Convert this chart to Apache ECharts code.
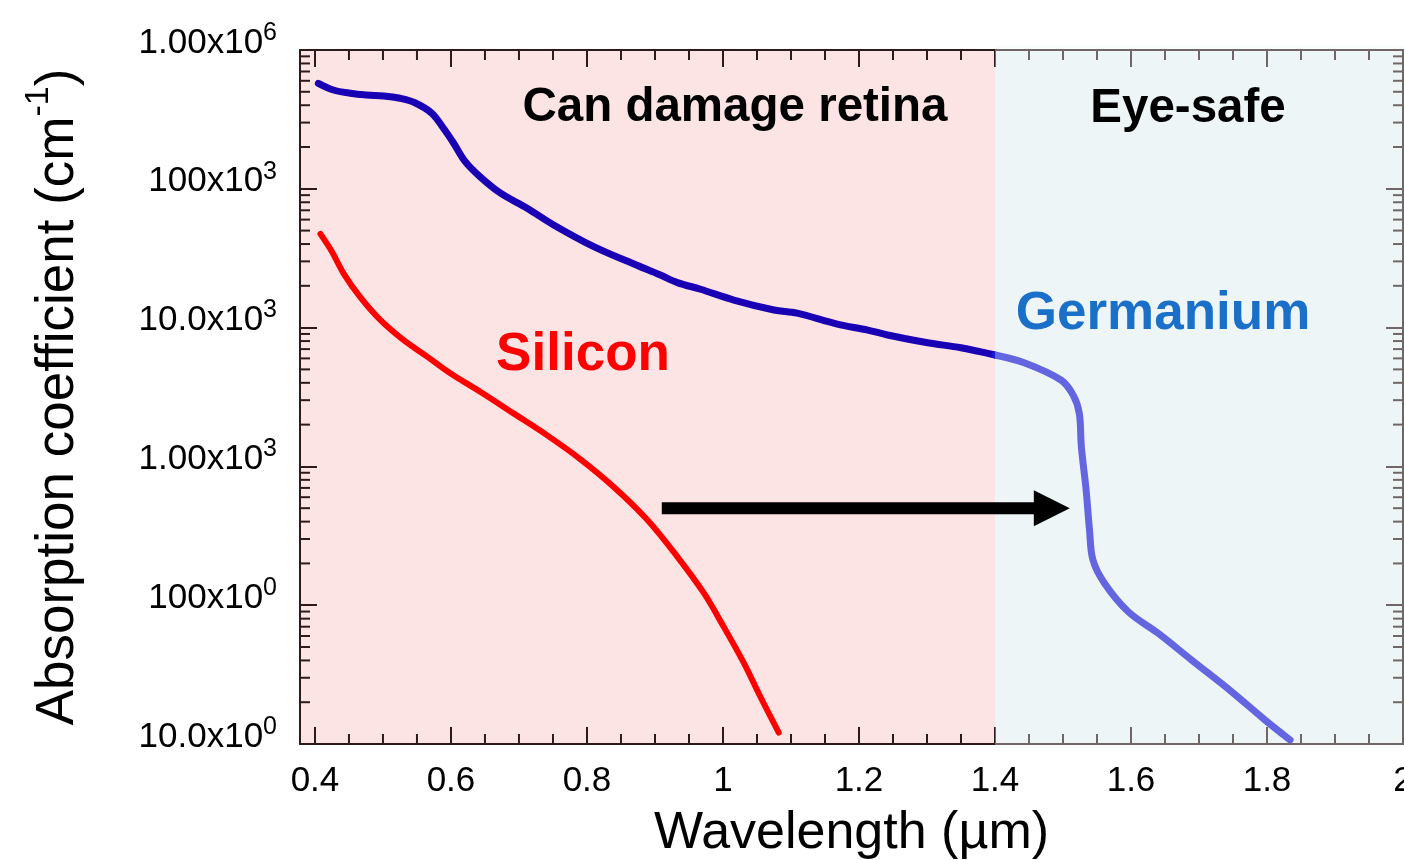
<!DOCTYPE html>
<html><head><meta charset="utf-8">
<script src="https://cdn.jsdelivr.net/npm/echarts@6/dist/echarts.min.js"></script>
<style>html,body{margin:0;padding:0;background:#fff}#c{width:1404px;height:860px}</style>
</head><body><div id="c"></div>
<script>
const FONT = '"Liberation Sans", Arial, Helvetica, sans-serif';

// ---- data ----
const geWavelength = [0.405,0.427,0.452,0.476,0.501,0.525,0.547,0.572,0.589,0.604,0.621,0.643,0.673,0.712,0.751,0.810,0.869,0.908,0.933,0.967,1.016,1.075,1.109,1.168,1.213,1.242,1.301,1.350,1.400,1.443,1.497,1.515,1.524,1.527,1.534,1.539,1.544,1.561,1.596,1.640,1.689,1.748,1.797,1.834];
const geAlpha = [5.75e5,5.15e5,4.88e5,4.74e5,4.67e5,4.49e5,4.17e5,3.50e5,2.73e5,2.13e5,1.57e5,1.22e5,9.3e4,7.24e4,5.49e4,3.83e4,2.87e4,2.39e4,2.11e4,1.89e4,1.58e4,1.34e4,1.27e4,1.06e4,9.6e3,8.85e3,7.78e3,7.16e3,6.35e3,5.58e3,4.19e3,3.26e3,2.41e3,1.39e3,676,348,212,144,89.7,62.7,40.3,23.8,14.9,10.7];
const siWavelength = [0.408,0.425,0.442,0.466,0.496,0.530,0.565,0.599,0.643,0.692,0.741,0.790,0.839,0.889,0.933,0.972,1.001,1.031,1.055,1.082];
const siAlpha = [4.73e4,3.52e4,2.46e4,1.67e4,1.135e4,8.15e3,6.18e3,4.69e3,3.45e3,2.41e3,1.68e3,1.13e3,714,411,223,122,70,38.1,21.9,12.1];

const xTicks = [0.4,0.6,0.8,1.0,1.2,1.4,1.6,1.8,2.0];
const xTickLabels = ['0.4','0.6','0.8','1','1.2','1.4','1.6','1.8','2'];
const yTicks = [10,100,1000,10000,100000,1000000];
const yTickMantissa = ['10.0','100','1.00','10.0','100','1.00'];
const yTickExponent = ['0','0','3','3','3','6'];

const regionBounds = [[0.378, 1.4], [1.4, 2.0]];
const regionNames = ['Can damage retina', 'Eye-safe'];
const arrowStart = [0.91, 500];
const arrowEnd = [1.51, 500];
const boundary = 1.4;

const X_MIN = 0.378, X_MAX = 2.0, Y_MIN = 10, Y_MAX = 1e6;
const AX = '#2e1a1a';
const PINK = '#fde4e4', PALE = '#edf5f7';

// minor tick values
const xMinor = [];
for (let i = 0; i < xTicks.length - 1; i++) for (let k = 1; k < 4; k++) xMinor.push(+(xTicks[i] + k * 0.05).toFixed(3));
const yMinor = [];
for (let d = 0; d < yTicks.length - 1; d++) for (let m = 2; m < 10; m++) yMinor.push(yTicks[d] * m);
const minorData = xMinor.map(v => [v, 1000, 0]).concat(yMinor.map(v => [1, v, 1]));

const geA = [], geB = [];
geWavelength.forEach((w, i) => { if (w <= boundary) geA.push([w, geAlpha[i]]); if (w >= boundary) geB.push([w, geAlpha[i]]); });
const siData = siWavelength.map((w, i) => [w, siAlpha[i]]);

const chart = echarts.init(document.getElementById('c'), null, {renderer: 'canvas'});

function xLabel(v) {
  const i = xTicks.findIndex(t => Math.abs(t - v) < 1e-6);
  return i >= 0 ? xTickLabels[i] : '';
}
function yLabel(v) {
  const i = yTicks.findIndex(t => Math.abs(Math.log10(t) - Math.log10(v)) < 1e-6);
  return i >= 0 ? '{m|' + yTickMantissa[i] + 'x10}{e|' + yTickExponent[i] + '}' : '';
}

const axisCommon = {
  type: 'value', min: X_MIN, max: X_MAX, splitNumber: 8, z: 3,
  axisLine: {show: true, onZero: false, lineStyle: {color: AX, width: 2}},
  axisTick: {show: true, inside: true, length: 17, customValues: xTicks, lineStyle: {color: AX, width: 2}},
  splitLine: {show: false}
};
const yCommon = {
  type: 'log', min: Y_MIN, max: Y_MAX, logBase: 10, splitNumber: 5, z: 3,
  axisLine: {show: true, onZero: false, lineStyle: {color: AX, width: 2}},
  axisTick: {show: true, inside: true, length: 17, lineStyle: {color: AX, width: 2}},
  splitLine: {show: false}
};

const lineCommon = {type: 'line', showSymbol: false, smooth: 0.35, z: 2};

const option = {
  animation: false,
  backgroundColor: '#ffffff',
  grid: {left: 300, right: 1, top: 50, bottom: 116, containLabel: false, outerBoundsMode: 'none'},
  xAxis: [
    Object.assign({}, axisCommon, {
      position: 'bottom',
      name: 'Wavelength (\u00b5m)', nameLocation: 'middle', nameGap: 64,
      nameTextStyle: {fontSize: 52, fontFamily: FONT, color: '#000'},
      axisLabel: {show: true, customValues: xTicks, formatter: xLabel, fontSize: 35, fontFamily: FONT, color: '#000', margin: 20, showMinLabel: true, showMaxLabel: true}
    }),
    Object.assign({}, axisCommon, {position: 'top', axisLabel: {show: false}})
  ],
  yAxis: [
    Object.assign({}, yCommon, {
      position: 'left',
      name: 'Absorption coefficient (cm{s|-1})', nameLocation: 'middle', nameGap: 206,
      nameTextStyle: {fontSize: 53, fontFamily: FONT, color: '#000',
        rich: {s: {fontSize: 34, fontFamily: FONT, color: '#000', padding: [0, 0, 38, 0]}}},
      axisLabel: {show: true, formatter: yLabel, margin: 23,
        rich: {
          m: {fontSize: 35, fontFamily: FONT, color: '#000', padding: [0, 0, 14, 0]},
          e: {fontSize: 25, fontFamily: FONT, color: '#000', padding: [0, 0, 34, 0]}
        }}
    }),
    Object.assign({}, yCommon, {position: 'right', axisLabel: {show: false}})
  ],
  series: [
    {
      type: 'custom', name: 'regions', z: 1, silent: true,
      data: regionBounds.map((b, i) => [b[0], b[1], 1000, i]),
      encode: {x: [0, 1], y: 2},
      renderItem: function (params, api) {
        const p0 = api.coord([api.value(0), Y_MAX]);
        const p1 = api.coord([api.value(1), Y_MIN]);
        return {type: 'rect', shape: {x: p0[0], y: p0[1], width: p1[0] - p0[0], height: p1[1] - p0[1]},
          style: {fill: api.value(3) === 0 ? PINK : PALE}};
      }
    },
    {
      type: 'custom', name: 'minorTicks', z: 3, silent: true,
      data: minorData, encode: {x: 0, y: 1},
      renderItem: function (params, api) {
        const cs = params.coordSys;
        const st = {stroke: AX, lineWidth: 2};
        if (api.value(2) === 0) {
          const px = api.coord([api.value(0), Y_MIN])[0];
          return {type: 'group', children: [
            {type: 'line', shape: {x1: px, y1: cs.y + cs.height, x2: px, y2: cs.y + cs.height - 10}, style: st},
            {type: 'line', shape: {x1: px, y1: cs.y, x2: px, y2: cs.y + 10}, style: st}
          ]};
        }
        const py = api.coord([X_MIN, api.value(1)])[1];
        return {type: 'group', children: [
          {type: 'line', shape: {x1: cs.x, y1: py, x2: cs.x + 10, y2: py}, style: st},
          {type: 'line', shape: {x1: cs.x + cs.width, y1: py, x2: cs.x + cs.width - 10, y2: py}, style: st}
        ]};
      }
    },
    Object.assign({}, lineCommon, {
      name: 'Silicon', data: siData,
      lineStyle: {color: '#ff0000', width: 6, cap: 'round', join: 'round'}, itemStyle: {color: '#ff0000'}
    }),
    Object.assign({}, lineCommon, {
      name: 'Germanium', data: geA,
      lineStyle: {color: '#1a00b4', width: 7, cap: 'round', join: 'round'}, itemStyle: {color: '#1a00b4'}
    }),
    Object.assign({}, lineCommon, {
      name: 'Germanium (eye-safe)', data: geB,
      lineStyle: {color: 'rgb(25,25,212)', width: 7, cap: 'round', join: 'round'}, itemStyle: {color: 'rgb(25,25,212)'}
    }),
    {
      type: 'custom', name: 'overlay', z: 5, silent: true,
      data: [[regionBounds[1][0], regionBounds[1][1], 1000]], encode: {x: [0, 1], y: 2},
      renderItem: function (params, api) {
        const p0 = api.coord([api.value(0), Y_MAX]);
        const p1 = api.coord([api.value(1), Y_MIN]);
        return {type: 'rect', shape: {x: p0[0], y: p0[1] - 4, width: p1[0] - p0[0] + 4, height: p1[1] - p0[1] + 8},
          style: {fill: 'rgba(237,245,247,0.35)'}};
      }
    },
    {
      type: 'custom', name: 'arrow', z: 10, silent: true,
      data: [[arrowStart[0], arrowStart[1], arrowEnd[0], arrowEnd[1]]], encode: {x: [0, 2], y: [1, 3]},
      renderItem: function (params, api) {
        const a = api.coord([api.value(0), api.value(1)]);
        const b = api.coord([api.value(2), api.value(3)]);
        const head = 36, half = 18;
        return {type: 'group', children: [
          {type: 'rect', shape: {x: a[0], y: a[1] - 6, width: b[0] - head - a[0] + 1, height: 12}, style: {fill: '#000'}},
          {type: 'polygon', shape: {points: [[b[0] - head, b[1] - half], [b[0], b[1]], [b[0] - head, b[1] + half]]}, style: {fill: '#000'}}
        ]};
      }
    }
  ],
  graphic: [
    {type: 'text', z: 100, x: 735, y: 108, style: {text: regionNames[0], font: 'bold 47.5px ' + FONT, fill: '#000', align: 'center', verticalAlign: 'middle'}},
    {type: 'text', z: 100, x: 1188, y: 109, style: {text: regionNames[1], font: 'bold 47.5px ' + FONT, fill: '#000', align: 'center', verticalAlign: 'middle'}},
    {type: 'text', z: 100, x: 1163, y: 314, style: {text: 'Germanium', font: 'bold 53px ' + FONT, fill: '#1a70c8', align: 'center', verticalAlign: 'middle'}},
    {type: 'text', z: 100, x: 583, y: 355, style: {text: 'Silicon', font: 'bold 53px ' + FONT, fill: '#ff0000', align: 'center', verticalAlign: 'middle'}}
  ]
};
chart.setOption(option);
</script>
</body></html>
